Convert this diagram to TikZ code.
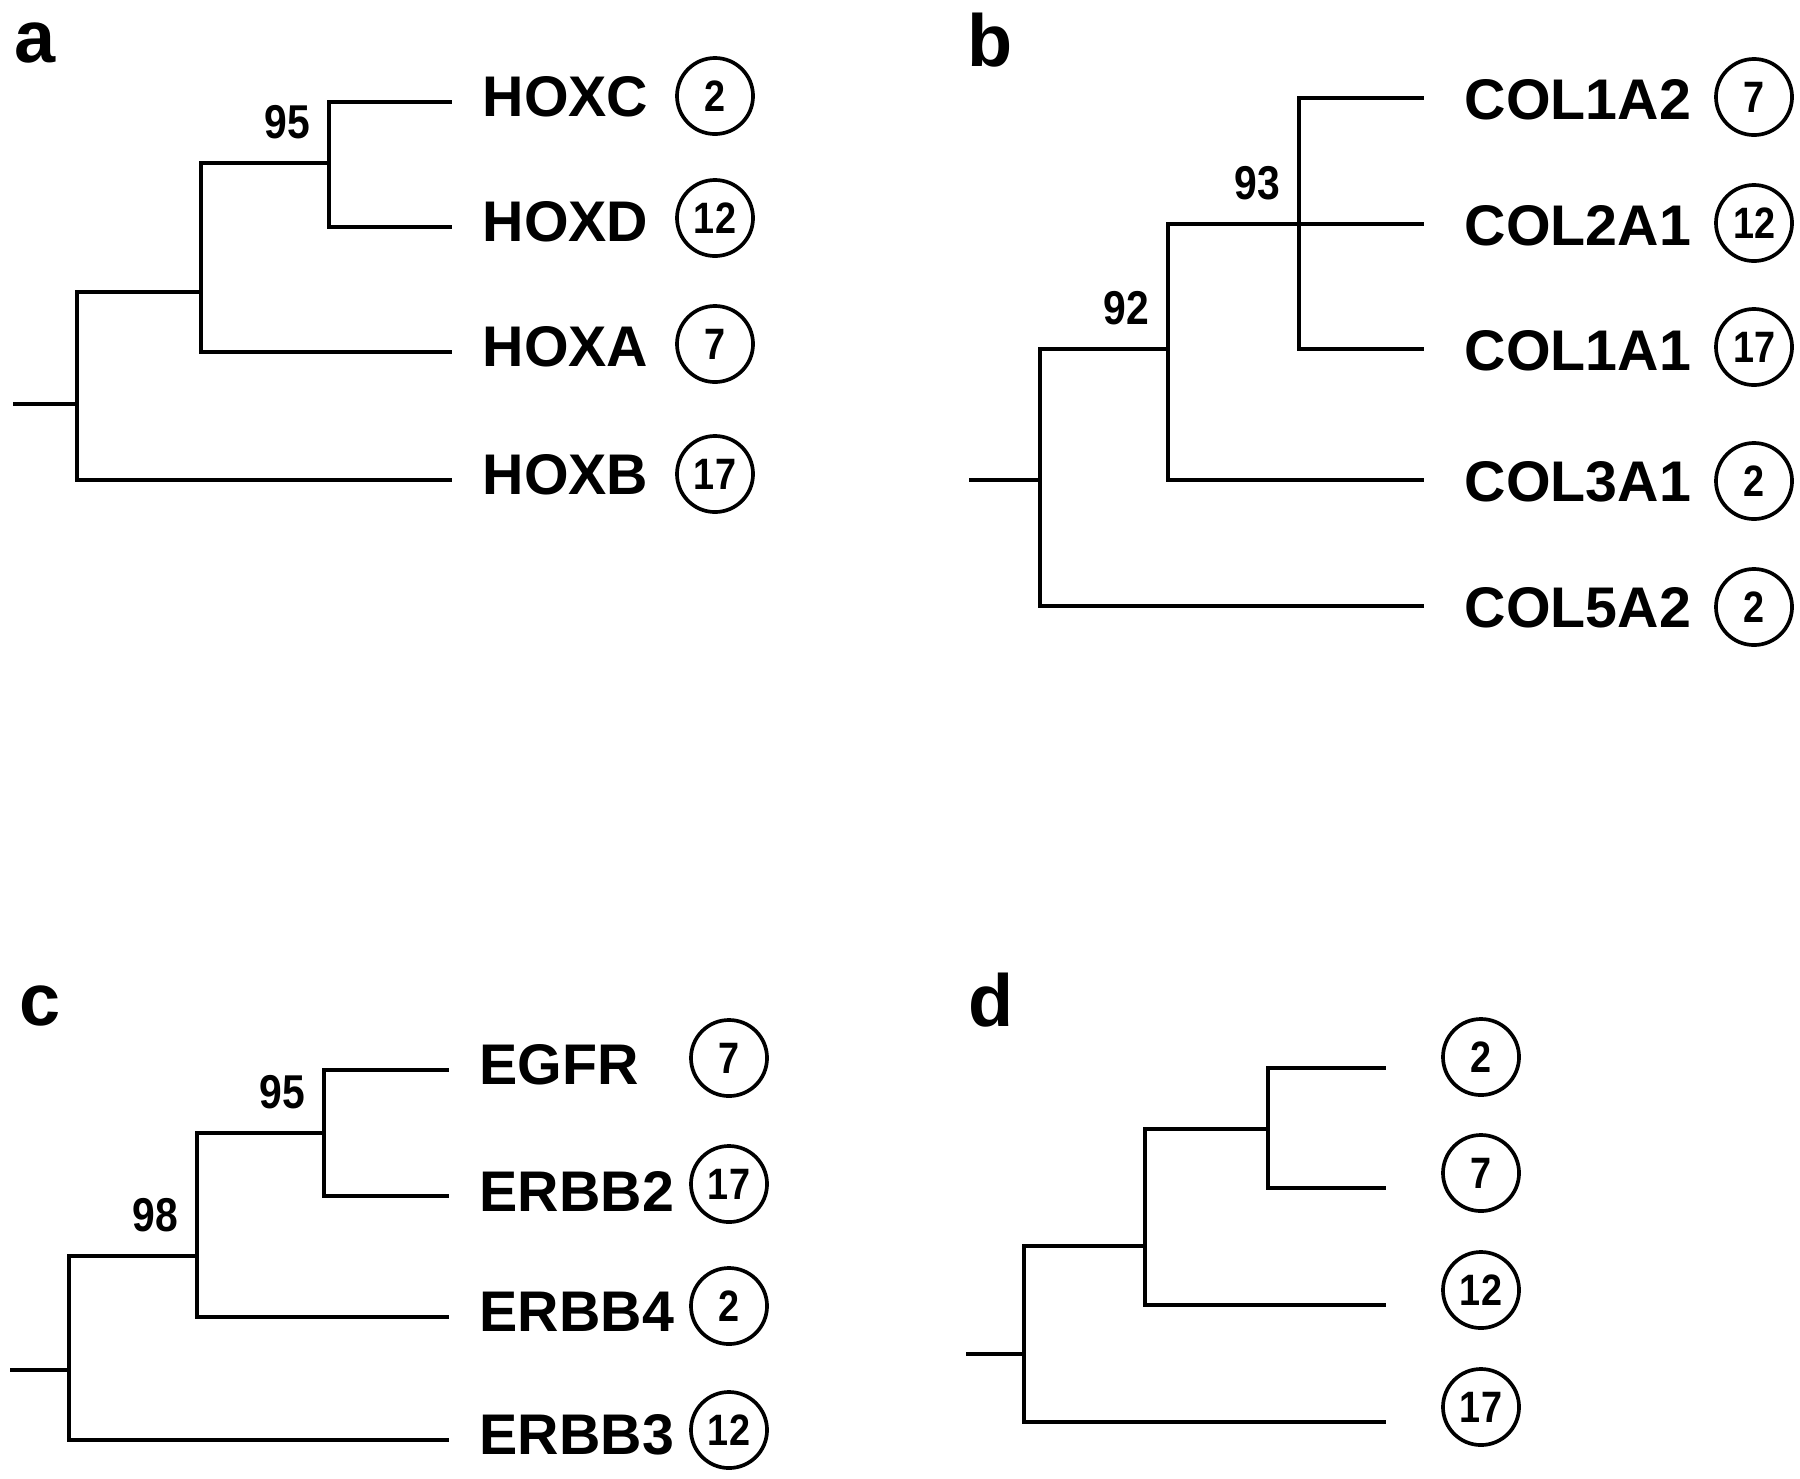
\documentclass[tikz,border=0pt]{standalone}
\usepackage{fontspec}
\setmainfont{Liberation Sans}
\newfontfamily\narrowsf[FakeStretch=0.86]{Liberation Sans}
\usetikzlibrary{positioning}

\begin{document}
\begin{tikzpicture}[
  x=0.01cm, y=-0.01cm,
  node distance=0.3cm,
  branch/.style={line width=1.35pt, line join=miter},
  gene/.style={inner sep=0pt, font=\fontsize{16.3}{19}\selectfont\bfseries},
  chrom/.style={draw, circle, line width=1.05pt, minimum size=0.76cm,
    inner sep=0pt, font=\narrowsf\fontsize{12.5}{14}\selectfont\bfseries},
  boot/.style={inner sep=0pt, font=\narrowsf\fontsize{13.5}{16}\selectfont\bfseries},
  panel/.style={inner sep=0pt, font=\fontsize{21}{25}\selectfont\bfseries}
]
\useasboundingbox (0,0) rectangle (1800,1478);

% a: HOX clusters
\node[panel] (pa) at (35,43) {a};
\coordinate (a0) at (13,404);
\coordinate (a1) at (77,404);
\coordinate (a2) at (201,292);
\coordinate (a3) at (329,163);
\coordinate (aHOXC) at (452,102);
\coordinate (aHOXD) at (452,227);
\coordinate (aHOXA) at (452,352);
\coordinate (aHOXB) at (452,480);
\draw[branch] (a0) -- (a1) |- (a2) |- (a3) |- (aHOXC);
\draw[branch] (a1) |- (aHOXB);
\draw[branch] (a2) |- (aHOXA);
\draw[branch] (a3) |- (aHOXD);
\node[boot, above left=0.23cm and 0.18cm of a3] (ba3) {95};
\node[gene, right=of aHOXC, yshift=0.05cm] (gHOXC) {HOXC};
\node[gene, right=of aHOXD, yshift=0.05cm] (gHOXD) {HOXD};
\node[gene, right=of aHOXA, yshift=0.05cm] (gHOXA) {HOXA};
\node[gene, right=of aHOXB, yshift=0.05cm] (gHOXB) {HOXB};
\node[chrom] (cHOXC) at (715,96) {2};
\node[chrom] (cHOXD) at (715,218) {12};
\node[chrom] (cHOXA) at (715,344) {7};
\node[chrom] (cHOXB) at (715,474) {17};

% b: collagens
\node[panel] (pb) at (990,40) {b};
\coordinate (b0) at (969,480);
\coordinate (b1) at (1040,480);
\coordinate (b2) at (1168,349);
\coordinate (b3) at (1299,224);
\coordinate (bCOL1A2) at (1424,98);
\coordinate (bCOL2A1) at (1424,224);
\coordinate (bCOL1A1) at (1424,349);
\coordinate (bCOL3A1) at (1424,480);
\coordinate (bCOL5A2) at (1424,606);
\draw[branch] (b0) -- (b1) |- (b2) |- (b3) -- (bCOL2A1);
\draw[branch] (b1) |- (bCOL5A2);
\draw[branch] (b2) |- (bCOL3A1);
\draw[branch] (b3) |- (bCOL1A2);
\draw[branch] (b3) |- (bCOL1A1);
\node[boot, above left=0.23cm and 0.18cm of b3] (bb3) {93};
\node[boot, above left=0.23cm and 0.18cm of b2] (bb2) {92};
\node[gene, right=0.4cm of bCOL1A2, yshift=-0.02cm] (gCOL1A2) {COL1A2};
\node[gene, right=0.4cm of bCOL2A1, yshift=-0.02cm] (gCOL2A1) {COL2A1};
\node[gene, right=0.4cm of bCOL1A1, yshift=-0.02cm] (gCOL1A1) {COL1A1};
\node[gene, right=0.4cm of bCOL3A1, yshift=-0.02cm] (gCOL3A1) {COL3A1};
\node[gene, right=0.4cm of bCOL5A2, yshift=-0.02cm] (gCOL5A2) {COL5A2};
\node[chrom] (cCOL1A2) at (1754,97) {7};
\node[chrom] (cCOL2A1) at (1754,223) {12};
\node[chrom] (cCOL1A1) at (1754,347) {17};
\node[chrom] (cCOL3A1) at (1754,481) {2};
\node[chrom] (cCOL5A2) at (1754,607) {2};

% c: EGF receptors
\node[panel] (pc) at (40,1006) {c};
\coordinate (c0) at (10,1370);
\coordinate (c1) at (69,1370);
\coordinate (c2) at (197,1256);
\coordinate (c3) at (324,1133);
\coordinate (cEGFR) at (449,1070);
\coordinate (cERBB2) at (449,1196);
\coordinate (cERBB4) at (449,1317);
\coordinate (cERBB3) at (449,1440);
\draw[branch] (c0) -- (c1) |- (c2) |- (c3) |- (cEGFR);
\draw[branch] (c1) |- (cERBB3);
\draw[branch] (c2) |- (cERBB4);
\draw[branch] (c3) |- (cERBB2);
\node[boot, above left=0.23cm and 0.18cm of c3] (bc3) {95};
\node[boot, above left=0.23cm and 0.18cm of c2] (bc2) {98};
\node[gene, right=of cEGFR, yshift=0.05cm] (gEGFR) {EGFR};
\node[gene, right=of cERBB2, yshift=0.05cm] (gERBB2) {ERBB2};
\node[gene, right=of cERBB4, yshift=0.05cm] (gERBB4) {ERBB4};
\node[gene, right=of cERBB3, yshift=0.05cm] (gERBB3) {ERBB3};
\node[chrom] (cEGFRc) at (729,1058) {7};
\node[chrom] (cERBB2c) at (729,1184) {17};
\node[chrom] (cERBB4c) at (729,1306) {2};
\node[chrom] (cERBB3c) at (729,1430) {12};

% d: chromosomes
\node[panel] (pd) at (991,1000) {d};
\coordinate (d0) at (966,1354);
\coordinate (d1) at (1024,1354);
\coordinate (d2) at (1145,1246);
\coordinate (d3) at (1268,1129);
\coordinate (dch2) at (1386,1068);
\coordinate (dch7) at (1386,1188);
\coordinate (dch12) at (1386,1305);
\coordinate (dch17) at (1386,1422);
\draw[branch] (d0) -- (d1) |- (d2) |- (d3) |- (dch2);
\draw[branch] (d1) |- (dch17);
\draw[branch] (d2) |- (dch12);
\draw[branch] (d3) |- (dch7);
\node[chrom] (cch2) at (1481,1057) {2};
\node[chrom] (cch7) at (1481,1173) {7};
\node[chrom] (cch12) at (1481,1290) {12};
\node[chrom] (cch17) at (1481,1407) {17};
\end{tikzpicture}
\end{document}
